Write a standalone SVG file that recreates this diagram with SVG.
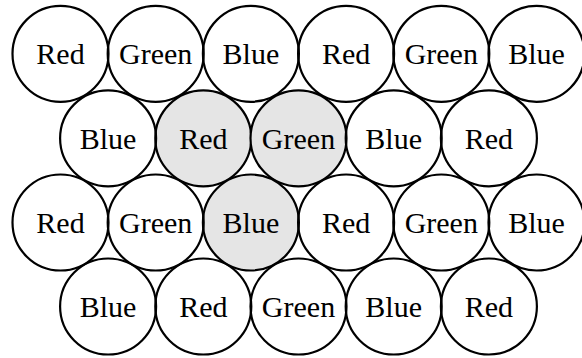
<svg xmlns="http://www.w3.org/2000/svg" width="582" height="358" viewBox="0 0 582 358">
<style>
.c{fill:none;stroke:#000;stroke-width:2.2}
.hl .c{fill:#e5e5e5}
.t{font-family:"Liberation Serif","Times New Roman",Tinos,"Nimbus Roman","DejaVu Serif",serif;font-size:30px;text-anchor:middle;fill:#000}
</style>
<rect width="582" height="358" fill="#fff"/>
<g id="connectors"/>
<g id="nodes">
<g id="n2_2" class="hl"><circle class="c" cx="203.3" cy="138.3" r="48"/><text class="t" x="203.3" y="148.8">Red</text></g>
<g id="n2_3" class="hl"><circle class="c" cx="298.5" cy="138.3" r="48"/><text class="t" x="298.5" y="148.8">Green</text></g>
<g id="n3_3" class="hl"><circle class="c" cx="250.9" cy="222.5" r="48"/><text class="t" x="250.9" y="233">Blue</text></g>

<g id="n1_1"><circle class="c" cx="60.5" cy="53.8" r="48"/><text class="t" x="60.5" y="64.3">Red</text></g>
<g id="n1_2"><circle class="c" cx="155.7" cy="53.8" r="48"/><text class="t" x="155.7" y="64.3">Green</text></g>
<g id="n1_3"><circle class="c" cx="250.9" cy="53.8" r="48"/><text class="t" x="250.9" y="64.3">Blue</text></g>
<g id="n1_4"><circle class="c" cx="346.1" cy="53.8" r="48"/><text class="t" x="346.1" y="64.3">Red</text></g>
<g id="n1_5"><circle class="c" cx="441.3" cy="53.8" r="48"/><text class="t" x="441.3" y="64.3">Green</text></g>
<g id="n1_6"><circle class="c" cx="536.5" cy="53.8" r="48"/><text class="t" x="536.5" y="64.3">Blue</text></g>

<g id="n2_1"><circle class="c" cx="108.1" cy="138.3" r="48"/><text class="t" x="108.1" y="148.8">Blue</text></g>
<g id="n2_4"><circle class="c" cx="393.7" cy="138.3" r="48"/><text class="t" x="393.7" y="148.8">Blue</text></g>
<g id="n2_5"><circle class="c" cx="488.9" cy="138.3" r="48"/><text class="t" x="488.9" y="148.8">Red</text></g>

<g id="n3_1"><circle class="c" cx="60.5" cy="222.5" r="48"/><text class="t" x="60.5" y="233">Red</text></g>
<g id="n3_2"><circle class="c" cx="155.7" cy="222.5" r="48"/><text class="t" x="155.7" y="233">Green</text></g>
<g id="n3_4"><circle class="c" cx="346.1" cy="222.5" r="48"/><text class="t" x="346.1" y="233">Red</text></g>
<g id="n3_5"><circle class="c" cx="441.3" cy="222.5" r="48"/><text class="t" x="441.3" y="233">Green</text></g>
<g id="n3_6"><circle class="c" cx="536.5" cy="222.5" r="48"/><text class="t" x="536.5" y="233">Blue</text></g>

<g id="n4_1"><circle class="c" cx="108.1" cy="306.5" r="48"/><text class="t" x="108.1" y="317">Blue</text></g>
<g id="n4_2"><circle class="c" cx="203.3" cy="306.5" r="48"/><text class="t" x="203.3" y="317">Red</text></g>
<g id="n4_3"><circle class="c" cx="298.5" cy="306.5" r="48"/><text class="t" x="298.5" y="317">Green</text></g>
<g id="n4_4"><circle class="c" cx="393.7" cy="306.5" r="48"/><text class="t" x="393.7" y="317">Blue</text></g>
<g id="n4_5"><circle class="c" cx="488.9" cy="306.5" r="48"/><text class="t" x="488.9" y="317">Red</text></g>
</g>
</svg>
